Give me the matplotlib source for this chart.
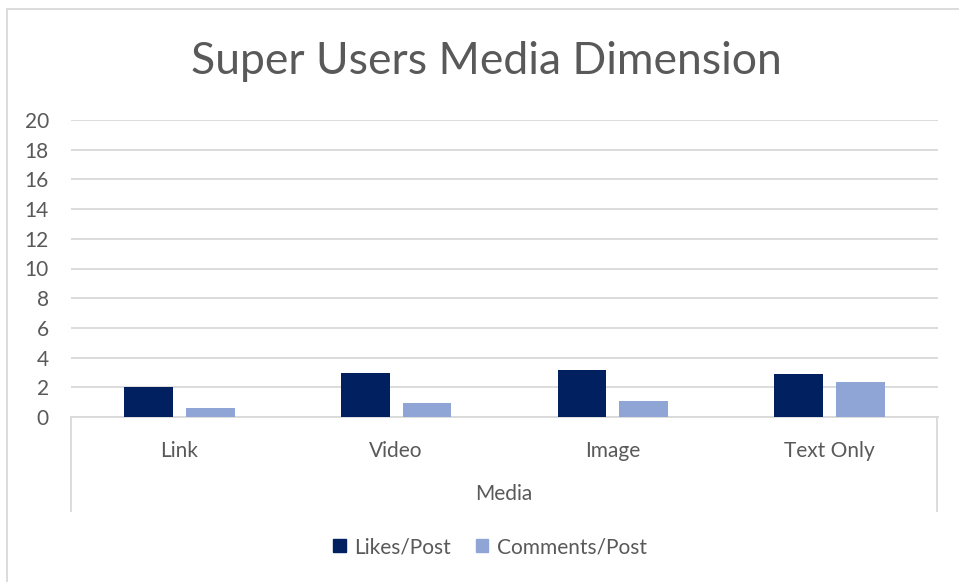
import numpy as np
import matplotlib.pyplot as plt
from matplotlib.patches import Rectangle, Patch
from matplotlib.lines import Line2D

media = ["Link", "Video", "Image", "Text Only"]
likes_per_post = [2.0, 2.95, 3.15, 2.9]
comments_per_post = [0.6, 0.95, 1.05, 2.35]
y_ticks = [0, 2, 4, 6, 8, 10, 12, 14, 16, 18, 20]

DARK = "#002060"
LIGHT = "#8FA5D6"
TEXT = "#595959"
GRID = "#D9D9D9"

plt.rcParams['font.family'] = ['Lato', 'DejaVu Sans']

W, H = 959, 582
fig = plt.figure(figsize=(W / 100, H / 100), dpi=100)

def fx(px):
    return px / W

def fy(py):
    return 1 - py / H

# chart area border
fig.patches.append(Rectangle((fx(7), fy(H + 20)), 1.2, fy(9) - fy(H + 20),
                             transform=fig.transFigure, fill=False,
                             edgecolor=GRID, linewidth=1.3, zorder=0))

ax = fig.add_axes([fx(71), fy(417), fx(938) - fx(71), fy(120) - fy(417)])

x = np.arange(len(media))
bar_w = 0.225
offset = 0.1425
ax.bar(x - offset, likes_per_post, bar_w, color=DARK, label="Likes/Post", zorder=3)
ax.bar(x + offset, comments_per_post, bar_w, color=LIGHT, label="Comments/Post", zorder=3)

ax.set_xlim(-0.5, len(media) - 0.5)
ax.set_ylim(0, 20)
ax.set_yticks(y_ticks)
ax.yaxis.grid(True, color=GRID, linewidth=1.3)
ax.set_axisbelow(True)
for side in ["top", "right", "left"]:
    ax.spines[side].set_visible(False)
ax.spines["bottom"].set_color(GRID)
ax.spines["bottom"].set_linewidth(1.3)

ax.tick_params(axis="y", length=0, pad=16, labelsize=15, labelcolor=TEXT)
ax.set_xticks(x)
ax.set_xticklabels(media)
ax.tick_params(axis="x", length=0, pad=17, labelsize=15, labelcolor=TEXT)

# box around the category labels
for xp in [71, 937]:
    fig.add_artist(Line2D([fx(xp), fx(xp)], [fy(417), fy(511)],
                          transform=fig.transFigure, color=GRID, linewidth=1.3))

fig.text(fx(504), fy(494), "Media", ha="center", va="center",
         fontsize=15, color=TEXT)

fig.text(fx(486), fy(62), "Super Users Media Dimension", ha="center",
         va="center", fontsize=32, color=TEXT)

handles = [Patch(color=DARK), Patch(color=LIGHT)]
leg = fig.legend(handles, ["Likes/Post", "Comments/Post"], loc="center",
                 bbox_to_anchor=(fx(490), fy(547)), ncol=2, frameon=False,
                 fontsize=15, handlelength=0.6, handleheight=0.6,
                 handletextpad=0.4, columnspacing=1.2)
for t in leg.get_texts():
    t.set_color(TEXT)

fig.savefig("out.png", dpi=100, facecolor="white")
